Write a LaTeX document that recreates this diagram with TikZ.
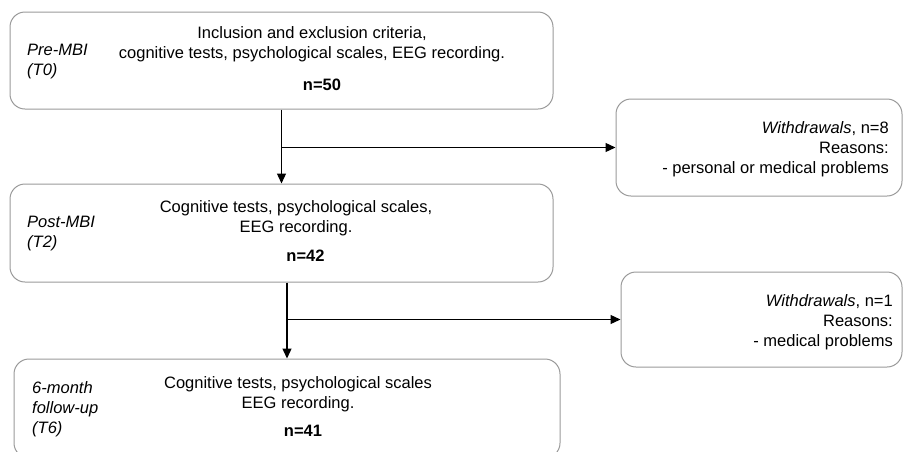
\documentclass[tikz,border=0pt]{standalone}
\usepackage{fontspec}
\setmainfont{Liberation Sans}
\usetikzlibrary{arrows.meta}
\definecolor{StageBorder}{HTML}{9A9A9A}
\definecolor{StageArrow}{HTML}{000000}
\definecolor{StageText}{HTML}{000000}

\begin{document}
\begin{tikzpicture}[x=1pt,y=-1pt,
    stagebox/.style={draw=StageBorder,line width=1pt,rounded corners=15pt,inner sep=0pt},
    bodytext/.style={text=StageText,align=center,inner sep=0pt,font=\fontsize{16.5pt}{20pt}\selectfont},
    counttext/.style={text=StageText,inner sep=0pt,font=\fontsize{16.5pt}{20pt}\selectfont\bfseries},
    timetext/.style={text=StageText,align=left,anchor=west,inner sep=0pt,font=\fontsize{16.5pt}{20pt}\selectfont\itshape},
    droptext/.style={text=StageText,align=right,anchor=east,inner sep=0pt,font=\fontsize{16.5pt}{20pt}\selectfont},
    flow/.style={StageArrow,line width=1.3pt,-{Triangle[length=10pt,width=9pt]}}]
      \useasboundingbox (0,0) rectangle (903,451);

      \node[stagebox,minimum width=543pt,minimum height=97pt] (t0) at (281.5,60.5) {};
      \node[stagebox,minimum width=543pt,minimum height=98pt] (t2) at (281.5,233) {};
      \node[stagebox,minimum width=546pt,minimum height=99pt] (t6) at (287,408.5) {};
      \node[stagebox,minimum width=286pt,minimum height=97pt] (wd1) at (759,147.5) {};
      \node[stagebox,minimum width=281pt,minimum height=95pt] (wd2) at (761.5,319.5) {};

      \node[timetext] (t0label) at (27,62) {Pre-MBI\\(T0)};
      \node[bodytext] (t0body) at (312,44) {Inclusion and exclusion criteria,\\cognitive tests, psychological scales, EEG recording.};
      \node[counttext] (t0count) at (322,85) {n=50};

      \node[timetext] (t2label) at (27,234) {Post-MBI\\(T2)};
      \node[bodytext] (t2body) at (296,218) {Cognitive tests, psychological scales,\\EEG recording.};
      \node[counttext] (t2count) at (305.5,256) {n=42};

      \node[timetext] (t6label) at (32,409) {6-month\\follow-up\\(T6)};
      \node[bodytext] (t6body) at (298,394) {Cognitive tests, psychological scales\\EEG recording.};
      \node[counttext] (t6count) at (303,431) {n=41};

      \node[droptext] (wd1text) at (889,149) {\textit{Withdrawals}, n=8\\Reasons:\\- personal or medical problems};
      \node[droptext] (wd2text) at (893,322) {\textit{Withdrawals}, n=1\\Reasons:\\- medical problems};

      \draw[flow] (t0.south) -- (t2.north);
      \draw[flow] (t0.south |- wd1.west) -- (wd1.west);
      \draw[flow] (t6.north |- t2.south) -- (t6.north);
      \draw[flow] (t6.north |- wd2.west) -- (wd2.west);
    \end{tikzpicture}
\end{document}
